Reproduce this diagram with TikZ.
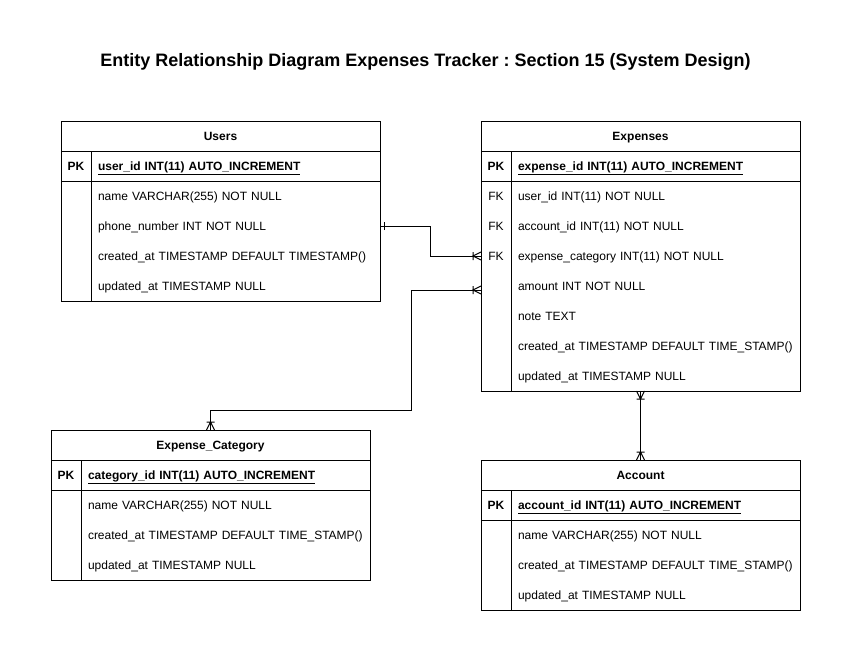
\documentclass[tikz,border=0pt]{standalone}
\usepackage{fontspec}
\setmainfont{Liberation Sans}
\usetikzlibrary{positioning,arrows.meta}
\frenchspacing

\pgfdeclarearrow{
  name = Crow,
  defaults = {length = 8pt, width = 8pt, line width = +0pt 1},
  cache = false,
  setup code = {
    \pgfarrowssettipend{0pt}
    \pgfarrowssetlineend{0pt}
    \pgfarrowssetbackend{-\pgfarrowlength}
    \pgfarrowshullpoint{0pt}{.5\pgfarrowwidth}
    \pgfarrowshullpoint{0pt}{-.5\pgfarrowwidth}
    \pgfarrowshullpoint{-\pgfarrowlength}{.5\pgfarrowwidth}
    \pgfarrowshullpoint{-\pgfarrowlength}{-.5\pgfarrowwidth}
    \pgfarrowssavethe\pgfarrowlength
    \pgfarrowssavethe\pgfarrowwidth
    \pgfarrowssavethe\pgfarrowlinewidth
  },
  drawing code = {
    \pgfsetdash{}{+0pt}
    \pgfsetlinewidth{\pgfarrowlinewidth}
    \pgfpathmoveto{\pgfqpoint{0pt}{.5\pgfarrowwidth}}
    \pgfpathlineto{\pgfqpoint{-\pgfarrowlength}{0pt}}
    \pgfpathlineto{\pgfqpoint{0pt}{-.5\pgfarrowwidth}}
    \pgfpathmoveto{\pgfqpoint{-\pgfarrowlength}{.5\pgfarrowwidth}}
    \pgfpathlineto{\pgfqpoint{-\pgfarrowlength}{-.5\pgfarrowwidth}}
    \pgfusepathqstroke
  }
}

\pgfdeclarearrow{
  name = One,
  defaults = {length = 4pt, width = 8pt, line width = +0pt 1},
  cache = false,
  setup code = {
    \pgfarrowssettipend{0pt}
    \pgfarrowssetlineend{0pt}
    \pgfarrowssetbackend{-\pgfarrowlength}
    \pgfarrowshullpoint{0pt}{.5\pgfarrowwidth}
    \pgfarrowshullpoint{0pt}{-.5\pgfarrowwidth}
    \pgfarrowshullpoint{-\pgfarrowlength}{.5\pgfarrowwidth}
    \pgfarrowshullpoint{-\pgfarrowlength}{-.5\pgfarrowwidth}
    \pgfarrowssavethe\pgfarrowlength
    \pgfarrowssavethe\pgfarrowwidth
    \pgfarrowssavethe\pgfarrowlinewidth
  },
  drawing code = {
    \pgfsetdash{}{+0pt}
    \pgfsetlinewidth{\pgfarrowlinewidth}
    \pgfpathmoveto{\pgfqpoint{-\pgfarrowlength}{.5\pgfarrowwidth}}
    \pgfpathlineto{\pgfqpoint{-\pgfarrowlength}{-.5\pgfarrowwidth}}
    \pgfusepathqstroke
  }
}

\begin{document}
\begin{tikzpicture}[x=1pt, y=-1pt, line width=1pt,
  tblhead/.style={draw, minimum width=319pt, minimum height=30pt, inner sep=0pt, outer sep=0pt, text height=10pt, text depth=1.5pt, font=\fontsize{12pt}{14pt}\selectfont\bfseries},
  field/.style={text width=275pt, inner xsep=7pt, inner ysep=0pt, minimum height=30pt, outer sep=0pt, text height=10pt, text depth=1.5pt, align=left, font=\fontsize{12pt}{14pt}\selectfont},
  pkfield/.style={field, font=\fontsize{12pt}{14pt}\selectfont\bfseries},
  keycell/.style={minimum width=30pt, minimum height=30pt, inner sep=0pt, outer sep=0pt, text height=10pt, text depth=1.5pt, font=\fontsize{12pt}{14pt}\selectfont},
  pkkey/.style={keycell, font=\fontsize{12pt}{14pt}\selectfont\bfseries}]
\fill[white] (0,0) rectangle (850,650);
\node[text height=15pt, text depth=2pt, font=\fontsize{18pt}{22pt}\selectfont\bfseries] (title) at (425.5,60) {Entity Relationship Diagram Expenses Tracker : Section 15 (System Design)};

\node[tblhead] (users) at (220.5,136) {Users};
\node[pkfield, below right=0pt and 30pt of users.south west] (users-f0) {\underline{user\_id INT(11) AUTO\_INCREMENT}};
\node[pkkey, left=0pt of users-f0] (users-k0) {PK};
\node[field, below=0pt of users-f0] (users-f1) {name VARCHAR(255) NOT NULL};
\node[field, below=0pt of users-f1] (users-f2) {phone\_number INT NOT NULL};
\node[field, below=0pt of users-f2] (users-f3) {created\_at TIMESTAMP DEFAULT TIMESTAMP()};
\node[field, below=0pt of users-f3] (users-f4) {updated\_at TIMESTAMP NULL};
\draw (users.north west) rectangle (users-f4.south east);
\draw (users-k0.south west) -- (users-f0.south east);
\draw (users-f0.north west) -- (users-f4.south west);

\node[tblhead] (expenses) at (640.5,136) {Expenses};
\node[pkfield, below right=0pt and 30pt of expenses.south west] (expenses-f0) {\underline{expense\_id INT(11) AUTO\_INCREMENT}};
\node[pkkey, left=0pt of expenses-f0] (expenses-k0) {PK};
\node[field, below=0pt of expenses-f0] (expenses-f1) {user\_id INT(11) NOT NULL};
\node[keycell, left=0pt of expenses-f1] (expenses-k1) {FK};
\node[field, below=0pt of expenses-f1] (expenses-f2) {account\_id INT(11) NOT NULL};
\node[keycell, left=0pt of expenses-f2] (expenses-k2) {FK};
\node[field, below=0pt of expenses-f2] (expenses-f3) {expense\_category INT(11) NOT NULL};
\node[keycell, left=0pt of expenses-f3] (expenses-k3) {FK};
\node[field, below=0pt of expenses-f3] (expenses-f4) {amount INT NOT NULL};
\node[field, below=0pt of expenses-f4] (expenses-f5) {note TEXT};
\node[field, below=0pt of expenses-f5] (expenses-f6) {created\_at TIMESTAMP DEFAULT TIME\_STAMP()};
\node[field, below=0pt of expenses-f6] (expenses-f7) {updated\_at TIMESTAMP NULL};
\draw (expenses.north west) rectangle (expenses-f7.south east);
\draw (expenses-k0.south west) -- (expenses-f0.south east);
\draw (expenses-f0.north west) -- (expenses-f7.south west);

\node[tblhead] (category) at (210.5,445) {Expense\_Category};
\node[pkfield, below right=0pt and 30pt of category.south west] (category-f0) {\underline{category\_id INT(11) AUTO\_INCREMENT}};
\node[pkkey, left=0pt of category-f0] (category-k0) {PK};
\node[field, below=0pt of category-f0] (category-f1) {name VARCHAR(255) NOT NULL};
\node[field, below=0pt of category-f1] (category-f2) {created\_at TIMESTAMP DEFAULT TIME\_STAMP()};
\node[field, below=0pt of category-f2] (category-f3) {updated\_at TIMESTAMP NULL};
\draw (category.north west) rectangle (category-f3.south east);
\draw (category-k0.south west) -- (category-f0.south east);
\draw (category-f0.north west) -- (category-f3.south west);

\node[tblhead] (account) at (640.5,475) {Account};
\node[pkfield, below right=0pt and 30pt of account.south west] (account-f0) {\underline{account\_id INT(11) AUTO\_INCREMENT}};
\node[pkkey, left=0pt of account-f0] (account-k0) {PK};
\node[field, below=0pt of account-f0] (account-f1) {name VARCHAR(255) NOT NULL};
\node[field, below=0pt of account-f1] (account-f2) {created\_at TIMESTAMP DEFAULT TIME\_STAMP()};
\node[field, below=0pt of account-f2] (account-f3) {updated\_at TIMESTAMP NULL};
\draw (account.north west) rectangle (account-f3.south east);
\draw (account-k0.south west) -- (account-f0.south east);
\draw (account-f0.north west) -- (account-f3.south west);

\draw[{One}-{Crow}] (users-f2.east) -- ++(50,0) |- (expenses.west |- expenses-f3);
\draw[{Crow}-{Crow}] ([yshift=-4pt]expenses.west |- expenses-f4) -- ++(-70,0) |- ([yshift=20pt]category.north) -- (category.north);
\draw[{Crow}-{Crow}] (expenses.north |- expenses-f7.south) -- (account.north);
\end{tikzpicture}
\end{document}
